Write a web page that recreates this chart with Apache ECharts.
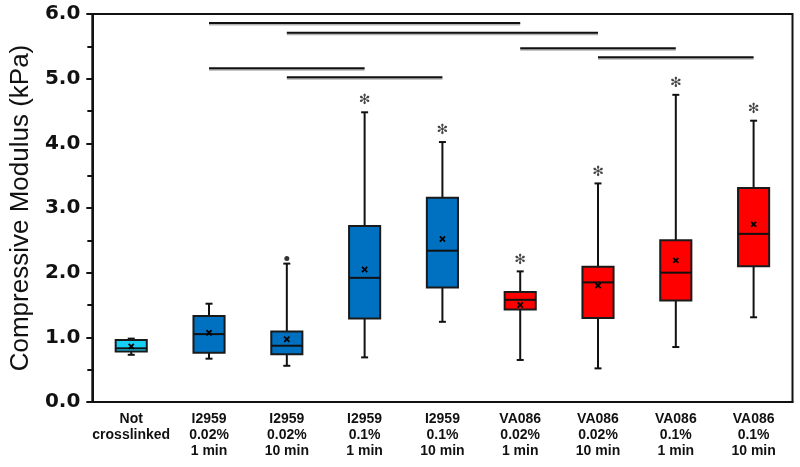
<!DOCTYPE html>
<html>
<head>
<meta charset="utf-8">
<script src="https://cdn.jsdelivr.net/npm/echarts@6/dist/echarts.min.js"></script>
<style>html,body{margin:0;padding:0;background:#fff}#c{width:800px;height:467px}</style>
</head>
<body>
<div id="c"></div>
<script>
// ---- data ----
const categories = ['Not\ncrosslinked', 'I2959\n0.02%\n1 min', 'I2959\n0.02%\n10 min', 'I2959\n0.1%\n1 min', 'I2959\n0.1%\n10 min', 'VA086\n0.02%\n1 min', 'VA086\n0.02%\n10 min', 'VA086\n0.1%\n1 min', 'VA086\n0.1%\n10 min'];
const groups = ['control', 'I2959', 'I2959', 'I2959', 'I2959', 'VA086', 'VA086', 'VA086', 'VA086'];
const mins    = [0.73, 0.67, 0.56, 0.69, 1.24, 0.65, 0.52, 0.85, 1.31];
const q1s     = [0.78, 0.76, 0.74, 1.29, 1.77, 1.43, 1.30, 1.57, 2.10];
const medians = [0.83, 1.05, 0.87, 1.92, 2.34, 1.58, 1.85, 2.00, 2.60];
const q3s     = [0.96, 1.33, 1.09, 2.72, 3.16, 1.70, 2.09, 2.50, 3.31];
const maxs    = [0.98, 1.52, 2.14, 4.48, 4.02, 2.02, 3.38, 4.75, 4.35];
const means   = [0.86, 1.07, 0.97, 2.05, 2.52, 1.50, 1.80, 2.19, 2.75];
const outliers = [[2, 2.22]];
const significant = [false, false, false, true, true, true, true, true, true];
// comparison bars: [from category, to category, y value]
const brackets = [[1, 5, 5.86], [2, 6, 5.71], [5, 7, 5.47], [6, 8, 5.33], [1, 3, 5.16], [2, 4, 5.02]];
const yTicks = [0, 1, 2, 3, 4, 5, 6];

// ---- styles ----
const groupColors = { control: '#17CFF3', I2959: '#0070C0', VA086: '#FF0000' };

const boxData = categories.map((c, i) => [i, mins[i], q1s[i], medians[i], q3s[i], maxs[i], means[i]]);

const chart = echarts.init(document.getElementById('c'), null, { renderer: 'canvas' });
chart.setOption({
  animation: false,
  grid: { left: 86, right: 7.5, top: 14, bottom: 65, show: true, borderColor: '#111', borderWidth: 2, backgroundColor: 'transparent' },
  xAxis: {
    type: 'category', data: categories,
    axisLine: { lineStyle: { color: '#111', width: 2 } },
    axisTick: { show: false },
    axisLabel: { interval: 0, margin: 9, color: '#111', fontFamily: 'Liberation Sans', fontWeight: 'bold', fontSize: 14, lineHeight: 16 }
  },
  yAxis: {
    type: 'value', min: yTicks[0], max: yTicks[yTicks.length - 1], interval: 1,
    name: 'Compressive Modulus (kPa)', nameLocation: 'middle', nameGap: 58,
    nameTextStyle: { fontFamily: 'Liberation Sans', fontSize: 26, color: '#111' },
    axisLine: { show: true, lineStyle: { color: '#111', width: 2 } },
    axisTick: { show: true, length: 6, lineStyle: { color: '#111', width: 2 } },
    minorTick: { show: true, splitNumber: 2, length: 5, lineStyle: { color: '#111', width: 2 } },
    splitLine: { show: false },
    axisLabel: { margin: 12, formatter: v => v.toFixed(1), color: '#111', fontFamily: 'DejaVu Sans', fontWeight: 'bold', fontSize: 20 }
  },
  series: [
    {
      type: 'custom',
      data: boxData,
      encode: { x: 0, y: [1, 2, 3, 4, 5] },
      z: 3,
      renderItem: function (params, api) {
        const i = api.value(0);
        const bw = api.size([1, 0])[0] * 0.40;
        const pMin = api.coord([i, api.value(1)]);
        const pQ1 = api.coord([i, api.value(2)]);
        const pMed = api.coord([i, api.value(3)]);
        const pQ3 = api.coord([i, api.value(4)]);
        const pMax = api.coord([i, api.value(5)]);
        const pMean = api.coord([i, api.value(6)]);
        const x = pMed[0];
        const cap = 3.5, m = 2.6;
        const ls = { stroke: '#111', lineWidth: 2 };
        const fill = groupColors[groups[i]];
        return {
          type: 'group',
          children: [
            { type: 'line', shape: { x1: x, y1: pMax[1], x2: x, y2: pQ3[1] }, style: ls },
            { type: 'line', shape: { x1: x, y1: pQ1[1], x2: x, y2: pMin[1] }, style: ls },
            { type: 'line', shape: { x1: x - cap, y1: pMax[1], x2: x + cap, y2: pMax[1] }, style: ls },
            { type: 'line', shape: { x1: x - cap, y1: pMin[1], x2: x + cap, y2: pMin[1] }, style: ls },
            { type: 'rect', shape: { x: x - bw / 2, y: pQ3[1], width: bw, height: pQ1[1] - pQ3[1] }, style: { fill: fill, stroke: '#1a1a1a', lineWidth: 2 } },
            { type: 'line', shape: { x1: x - bw / 2, y1: pMed[1], x2: x + bw / 2, y2: pMed[1] }, style: { stroke: '#111', lineWidth: 2 } },
            { type: 'line', shape: { x1: x - m, y1: pMean[1] - m, x2: x + m, y2: pMean[1] + m }, style: { stroke: '#000', lineWidth: 1.8 } },
            { type: 'line', shape: { x1: x - m, y1: pMean[1] + m, x2: x + m, y2: pMean[1] - m }, style: { stroke: '#000', lineWidth: 1.8 } }
          ]
        };
      }
    },
    {
      type: 'scatter',
      data: outliers,
      symbol: 'circle', symbolSize: 5,
      itemStyle: { color: '#000' },
      z: 4
    },
    {
      type: 'custom',
      data: categories.map((c, i) => [i, maxs[i], significant[i] ? 1 : 0]),
      encode: { x: 0, y: 1 },
      z: 4,
      renderItem: function (params, api) {
        if (!api.value(2)) return null;
        const p = api.coord([api.value(0), api.value(1)]);
        return {
          type: 'text',
          style: { text: '✻', x: p[0], y: p[1] - 11.5, align: 'center', verticalAlign: 'middle', fill: '#444', font: '14px DejaVu Sans' }
        };
      }
    },
    {
      type: 'custom',
      data: brackets,
      encode: { x: [0, 1], y: 2 },
      z: 4,
      renderItem: function (params, api) {
        const a = api.coord([api.value(0), api.value(2)]);
        const b = api.coord([api.value(1), api.value(2)]);
        return {
          type: 'line',
          shape: { x1: a[0], y1: a[1], x2: b[0], y2: b[1] },
          style: { stroke: '#111', lineWidth: 2, shadowColor: 'rgba(0,0,0,0.3)', shadowOffsetY: 1.5, shadowBlur: 0 }
        };
      }
    }
  ]
});
</script>
</body>
</html>
